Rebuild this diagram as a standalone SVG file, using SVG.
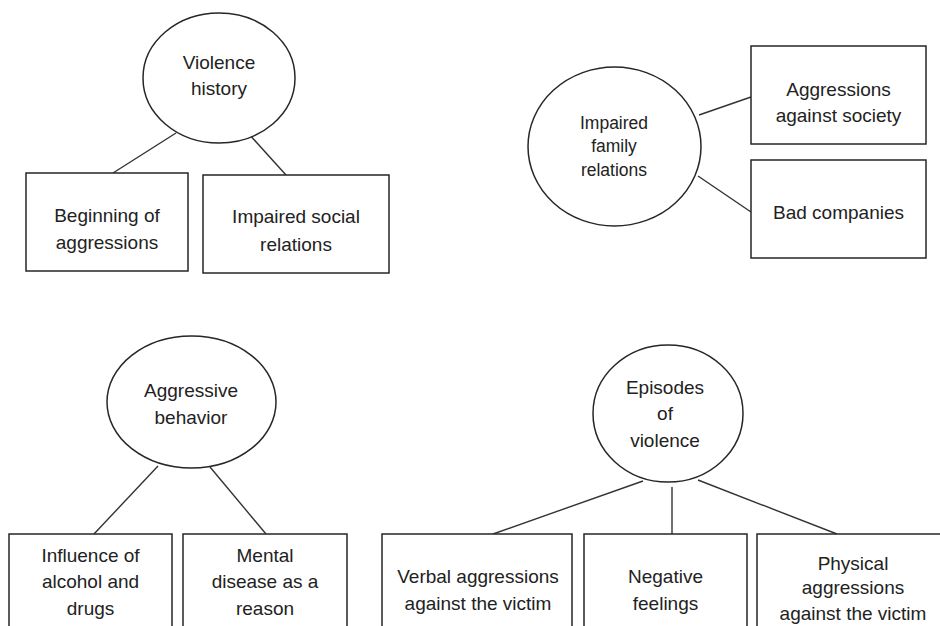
<svg xmlns="http://www.w3.org/2000/svg" width="940" height="626" viewBox="0 0 940 626">
<style>
  .shape { fill: #ffffff; stroke: #262626; stroke-width: 1.5; }
  .conn { stroke: #333333; stroke-width: 1.4; fill: none; }
  text { font-family: "Liberation Sans", Arial, sans-serif; font-size: 19px; fill: #222222; text-anchor: middle; }
  .small { font-size: 17.5px; }
</style>
<rect x="0" y="0" width="940" height="626" fill="#ffffff"/>
<g id="connectors">
  <line class="conn" x1="176" y1="133" x2="113" y2="173"/>
  <line class="conn" x1="248" y1="133" x2="286" y2="175"/>
  <line class="conn" x1="699" y1="115" x2="751" y2="97"/>
  <line class="conn" x1="698" y1="176" x2="751" y2="212"/>
  <line class="conn" x1="158" y1="466" x2="94" y2="534"/>
  <line class="conn" x1="210" y1="467" x2="266" y2="534"/>
  <line class="conn" x1="643" y1="481" x2="493" y2="534"/>
  <line class="conn" x1="672" y1="487" x2="672" y2="534"/>
  <line class="conn" x1="698" y1="480" x2="837" y2="534"/>
</g>
<g id="violence-history">
  <ellipse class="shape" cx="219" cy="78" rx="76" ry="65"/>
  <text x="219" y="69">Violence</text>
  <text x="219" y="95">history</text>
</g>
<g id="beginning-of-aggressions">
  <rect class="shape" x="26" y="173" width="162" height="98"/>
  <text x="107" y="222">Beginning of</text>
  <text x="107" y="249">aggressions</text>
</g>
<g id="impaired-social-relations">
  <rect class="shape" x="203" y="175" width="186" height="98"/>
  <text x="296" y="223">Impaired social</text>
  <text x="296" y="251">relations</text>
</g>
<g id="impaired-family-relations">
  <ellipse class="shape" cx="614.5" cy="146.5" rx="86.5" ry="79.5"/>
  <text class="small" x="614" y="129">Impaired</text>
  <text class="small" x="614" y="152">family</text>
  <text class="small" x="614" y="176">relations</text>
</g>
<g id="aggressions-against-society">
  <rect class="shape" x="751" y="46" width="175" height="98"/>
  <text x="838.5" y="96">Aggressions</text>
  <text x="838.5" y="122">against society</text>
</g>
<g id="bad-companies">
  <rect class="shape" x="751" y="160" width="175" height="98"/>
  <text x="838.5" y="219">Bad companies</text>
</g>
<g id="aggressive-behavior">
  <ellipse class="shape" cx="191.5" cy="402" rx="84.5" ry="66"/>
  <text x="191" y="397">Aggressive</text>
  <text x="191" y="424">behavior</text>
</g>
<g id="influence-of-alcohol">
  <rect class="shape" x="9" y="534" width="163" height="100"/>
  <text x="90.5" y="562">Influence of</text>
  <text x="90.5" y="588">alcohol and</text>
  <text x="90.5" y="615">drugs</text>
</g>
<g id="mental-disease">
  <rect class="shape" x="183" y="534" width="164" height="100"/>
  <text x="265" y="562">Mental</text>
  <text x="265" y="588">disease as a</text>
  <text x="265" y="615">reason</text>
</g>
<g id="episodes-of-violence">
  <ellipse class="shape" cx="668" cy="413.5" rx="75" ry="68.5"/>
  <text x="665" y="394">Episodes</text>
  <text x="665" y="420">of</text>
  <text x="665" y="447">violence</text>
</g>
<g id="verbal-aggressions">
  <rect class="shape" x="382" y="534" width="190" height="100"/>
  <text x="478" y="583">Verbal aggressions</text>
  <text x="478" y="610">against the victim</text>
</g>
<g id="negative-feelings">
  <rect class="shape" x="584" y="534" width="163" height="100"/>
  <text x="665.5" y="583">Negative</text>
  <text x="665.5" y="610">feelings</text>
</g>
<g id="physical-aggressions">
  <rect class="shape" x="757" y="534" width="192" height="100"/>
  <text x="853" y="570">Physical</text>
  <text x="853" y="594">aggressions</text>
  <text x="853" y="620">against the victim</text>
</g>
</svg>
